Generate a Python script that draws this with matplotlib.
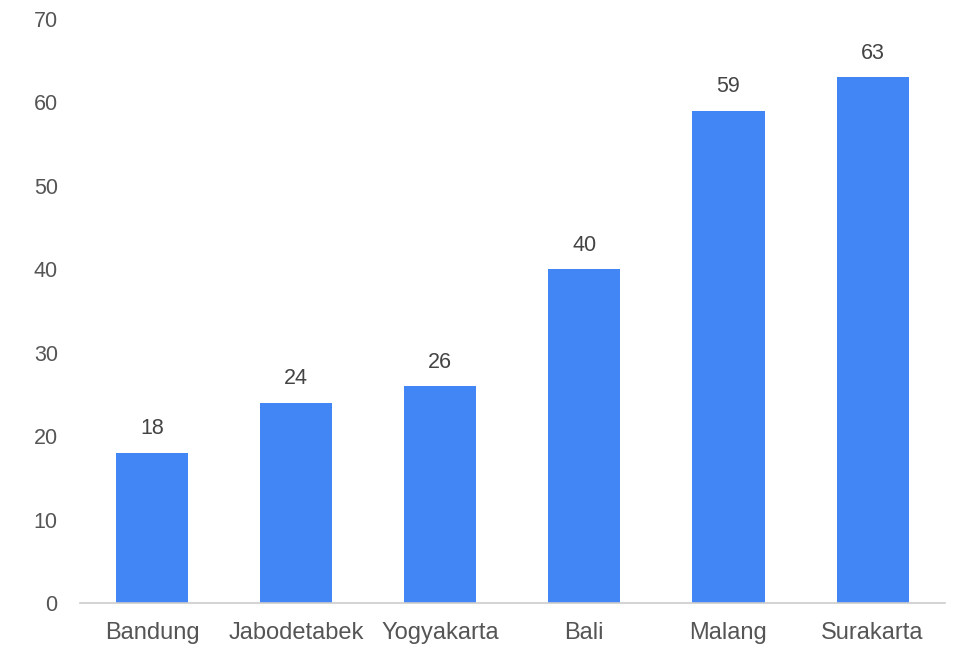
import matplotlib.pyplot as plt

cities = ['Bandung', 'Jabodetabek', 'Yogyakarta', 'Bali', 'Malang', 'Surakarta']
values = [18, 24, 26, 40, 59, 63]
yticks = [0, 10, 20, 30, 40, 50, 60, 70]

plt.rcParams['font.family'] = ['Liberation Sans', 'DejaVu Sans']

fig = plt.figure(figsize=(9.6, 6.46), dpi=100)
ax = fig.add_axes([0.0833, 0.0666, 0.9007, 0.904])

x = range(len(cities))
bars = ax.bar(x, values, width=0.5, color='#4285F4', zorder=2)

for b, v in zip(bars, values):
    ax.text(b.get_x() + b.get_width() / 2, v + 1.6, str(v),
            ha='center', va='bottom', fontsize=15.5, color='#444444')

ax.set_xlim(-0.5, len(cities) - 0.5)
ax.set_ylim(0, 70)
ax.set_yticks(yticks)
ax.set_xticks(list(x))
ax.set_xticklabels(cities)

for s in ['top', 'right', 'left']:
    ax.spines[s].set_visible(False)
ax.spines['bottom'].set_color('#cccccc')
ax.spines['bottom'].set_linewidth(1.2)

ax.tick_params(axis='both', length=0, colors='#555555')
ax.tick_params(axis='y', labelsize=15.5, pad=16)
ax.tick_params(axis='x', labelsize=17, pad=14)

fig.savefig('out.png', dpi=100)
